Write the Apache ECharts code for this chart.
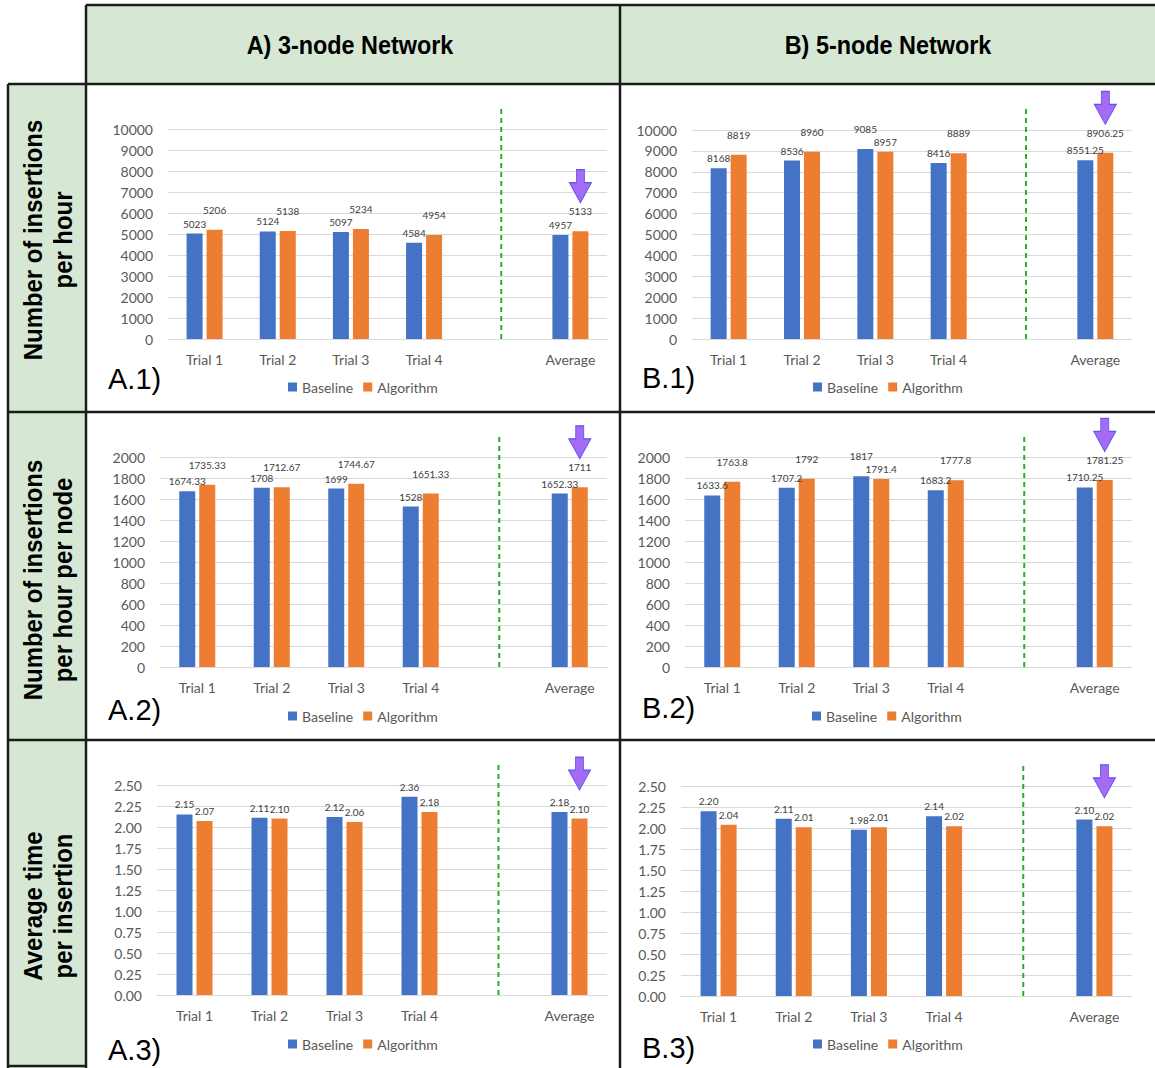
<!DOCTYPE html>
<html><head><meta charset="utf-8">
<script src="https://cdn.jsdelivr.net/npm/echarts@6/dist/echarts.min.js"></script>
<style>html,body{margin:0;padding:0;background:#fff}#c{width:1155px;height:1068px}</style>
</head><body><div id="c"></div>
<script>
// ---------- DATA ----------
const categories = ['Trial 1', 'Trial 2', 'Trial 3', 'Trial 4', '', 'Average'];
const seriesNames = ['Baseline', 'Algorithm'];

const a1Baseline  = [5023, 5124, 5097, 4584, null, 4957];
const a1Algorithm = [5206, 5138, 5234, 4954, null, 5133];
const b1Baseline  = [8168, 8536, 9085, 8416, null, 8551.25];
const b1Algorithm = [8819, 8960, 8957, 8889, null, 8906.25];
const a2Baseline  = [1674.33, 1708, 1699, 1528, null, 1652.33];
const a2Algorithm = [1735.33, 1712.67, 1744.67, 1651.33, null, 1711];
const b2Baseline  = [1633.6, 1707.2, 1817, 1683.2, null, 1710.25];
const b2Algorithm = [1763.8, 1792, 1791.4, 1777.8, null, 1781.25];
const a3Baseline  = [2.15, 2.11, 2.12, 2.36, null, 2.18];
const a3Algorithm = [2.07, 2.10, 2.06, 2.18, null, 2.10];
const b3Baseline  = [2.20, 2.11, 1.98, 2.14, null, 2.10];
const b3Algorithm = [2.04, 2.01, 2.01, 2.02, null, 2.02];

const yMax      = [10000, 10000, 2000, 2000, 2.5, 2.5];
const yStep     = [1000, 1000, 200, 200, 0.25, 0.25];
const yDecimals = [0, 0, 0, 0, 2, 2];

const columnTitles = ['A) 3-node Network', 'B) 5-node Network'];
const rowTitles = ['Number of insertions\nper hour', 'Number of insertions\nper hour per node', 'Average time\nper insertion'];
const panelTags = ['A.1)', 'B.1)', 'A.2)', 'B.2)', 'A.3)', 'B.3)'];
const separatorIndex = 4;   // blank category where the dashed divider sits
const highlightIndex = 5;   // "Average" category marked by the arrow

const panelData = [
  [a1Baseline, a1Algorithm], [b1Baseline, b1Algorithm],
  [a2Baseline, a2Algorithm], [b2Baseline, b2Algorithm],
  [a3Baseline, a3Algorithm], [b3Baseline, b3Algorithm]
];

// ---------- LAYOUT / STYLE ----------
const panels = [
  {grid: {left: 168, top: 129, width: 439, height: 210}, legend: {left: 288, top: 380}, tag: [108, 379]},
  {grid: {left: 692, top: 130, width: 440, height: 209}, legend: {left: 813, top: 380}, tag: [642, 378]},
  {grid: {left: 160, top: 457, width: 447, height: 210}, legend: {left: 288, top: 709}, tag: [108, 710]},
  {grid: {left: 685, top: 457, width: 447, height: 210}, legend: {left: 812, top: 709}, tag: [642, 708]},
  {grid: {left: 157, top: 785, width: 450, height: 210}, legend: {left: 288, top: 1037}, tag: [108, 1050]},
  {grid: {left: 681, top: 786, width: 451, height: 210}, legend: {left: 813, top: 1037}, tag: [642, 1048]}
];
const colors = ['#4472c4', '#ed7d31'];
const FONT = 'Lato, "Open Sans", sans-serif';
const BOLDFONT = '"Liberation Sans", Arial, sans-serif';
const arrowPath = 'path://M7,0 L15,0 L15,13 L22,13 L11,33 L0,13 L7,13 Z';

const chart = echarts.init(document.getElementById('c'), null, {renderer: 'svg'});

const grids = [], xAxes = [], yAxes = [], legends = [], series = [];
panels.forEach((p, i) => {
  grids.push(Object.assign({containLabel: false}, p.grid));
  xAxes.push({
    type: 'category', gridIndex: i, data: categories,
    axisTick: {show: false},
    axisLine: {lineStyle: {color: '#d9d9d9', width: 1}},
    axisLabel: {color: '#595959', fontSize: 14, fontFamily: FONT, margin: 13}
  });
  yAxes.push({
    type: 'value', gridIndex: i, min: 0, max: yMax[i], interval: yStep[i],
    axisLine: {show: false}, axisTick: {show: false},
    splitLine: {lineStyle: {color: '#d9d9d9', width: 1}},
    axisLabel: {color: '#595959', fontSize: 14, fontFamily: FONT, margin: 15,
      formatter: v => v.toFixed(yDecimals[i])}
  });
  legends.push({
    data: seriesNames, left: p.legend.left, top: p.legend.top, padding: 0,
    itemWidth: 9, itemHeight: 9, itemGap: 10, icon: 'rect',
    textStyle: {color: '#595959', fontSize: 14, fontFamily: FONT}
  });
  const raise = yDecimals[i] === 0;
  const pair = panelData[i];
  pair.forEach((vals, s) => {
    const other = pair[1 - s];
    const data = vals.map((v, k) => v == null ? null : {
      value: v,
      label: {distance: (raise && v > other[k]) ? 15 : 5}
    });
    const ser = {
      name: seriesNames[s], type: 'bar', xAxisIndex: i, yAxisIndex: i,
      data: data, barWidth: 16, barGap: '25%',
      itemStyle: {color: colors[s]},
      label: {show: true, position: 'top', fontSize: 10, color: '#404040', fontFamily: FONT,
        formatter: prm => yDecimals[i] ? prm.value.toFixed(2) : String(prm.value)},
      emphasis: {disabled: true}, animation: false
    };
    if (s === 1) {
      ser.markPoint = {
        silent: true, symbol: arrowPath, symbolSize: [22, 33], symbolOffset: [0, -45],
        itemStyle: {color: '#a66bf5', borderColor: '#5b55f0', borderWidth: 1},
        label: {show: false},
        data: [{coord: [highlightIndex, vals[highlightIndex]]}]
      };
    }
    series.push(ser);
  });
});

chart.setOption({
  animation: false, backgroundColor: '#fff',
  grid: grids, xAxis: xAxes, yAxis: yAxes, legend: legends, series: series
});

// ---------- TABLE FRAME AND TEXT ----------
const LINE = {stroke: '#1c1c1c', lineWidth: 2.5};
const g = [];
g.push({type: 'rect', shape: {x: 86, y: 5, width: 1069, height: 79}, style: {fill: '#d6e8d4'}, z: -1});
g.push({type: 'rect', shape: {x: 8, y: 84, width: 78, height: 984}, style: {fill: '#d6e8d4'}, z: -1});
const hl = (x1, x2, y) => g.push({type: 'line', shape: {x1, y1: y, x2, y2: y}, style: LINE, z: 5});
const vl = (x, y1, y2) => g.push({type: 'line', shape: {x1: x, y1, x2: x, y2}, style: LINE, z: 5});
hl(86, 1155, 5); hl(8, 1155, 84); hl(8, 1155, 412); hl(8, 1155, 740); hl(8, 86, 1066);
vl(8, 84, 1068); vl(86, 5, 1068); vl(620, 5, 1068);

[[350, 45], [888, 45]].forEach((c, k) => g.push({
  type: 'text', x: c[0], y: c[1], scaleX: 0.9,
  style: {text: columnTitles[k], fontSize: 26, fontWeight: 'bold', fontFamily: BOLDFONT, fill: '#000',
    align: 'center', verticalAlign: 'middle', textAlign: 'center', textVerticalAlign: 'middle'}
}));
[[48, 240], [48, 580], [48, 906]].forEach((c, k) => g.push({
  type: 'text', x: c[0], y: c[1], rotation: Math.PI / 2, scaleX: 0.92,
  style: {text: rowTitles[k], fontSize: 26, fontWeight: 'bold', fontFamily: BOLDFONT, fill: '#000', lineHeight: 30,
    align: 'center', verticalAlign: 'middle', textAlign: 'center', textVerticalAlign: 'middle'}
}));
panels.forEach((p, i) => {
  g.push({type: 'text', x: p.tag[0], y: p.tag[1],
    style: {text: panelTags[i], fontSize: 29, fontFamily: BOLDFONT, fill: '#000',
      align: 'left', verticalAlign: 'middle', textAlign: 'left', textVerticalAlign: 'middle'}});
  // dashed separator placed through the library's own scales
  const x = chart.convertToPixel({xAxisIndex: i}, separatorIndex);
  const yBottom = chart.convertToPixel({yAxisIndex: i}, 0);
  const yTop = chart.convertToPixel({yAxisIndex: i}, yMax[i]) - 24;
  g.push({type: 'line', shape: {x1: x + 4, y1: yBottom, x2: x + 4, y2: yTop},
    style: {stroke: '#25b025', lineWidth: 2, lineDash: [5, 4]}, z: 3});
});
chart.setOption({graphic: {elements: g}});
</script>
</body></html>
